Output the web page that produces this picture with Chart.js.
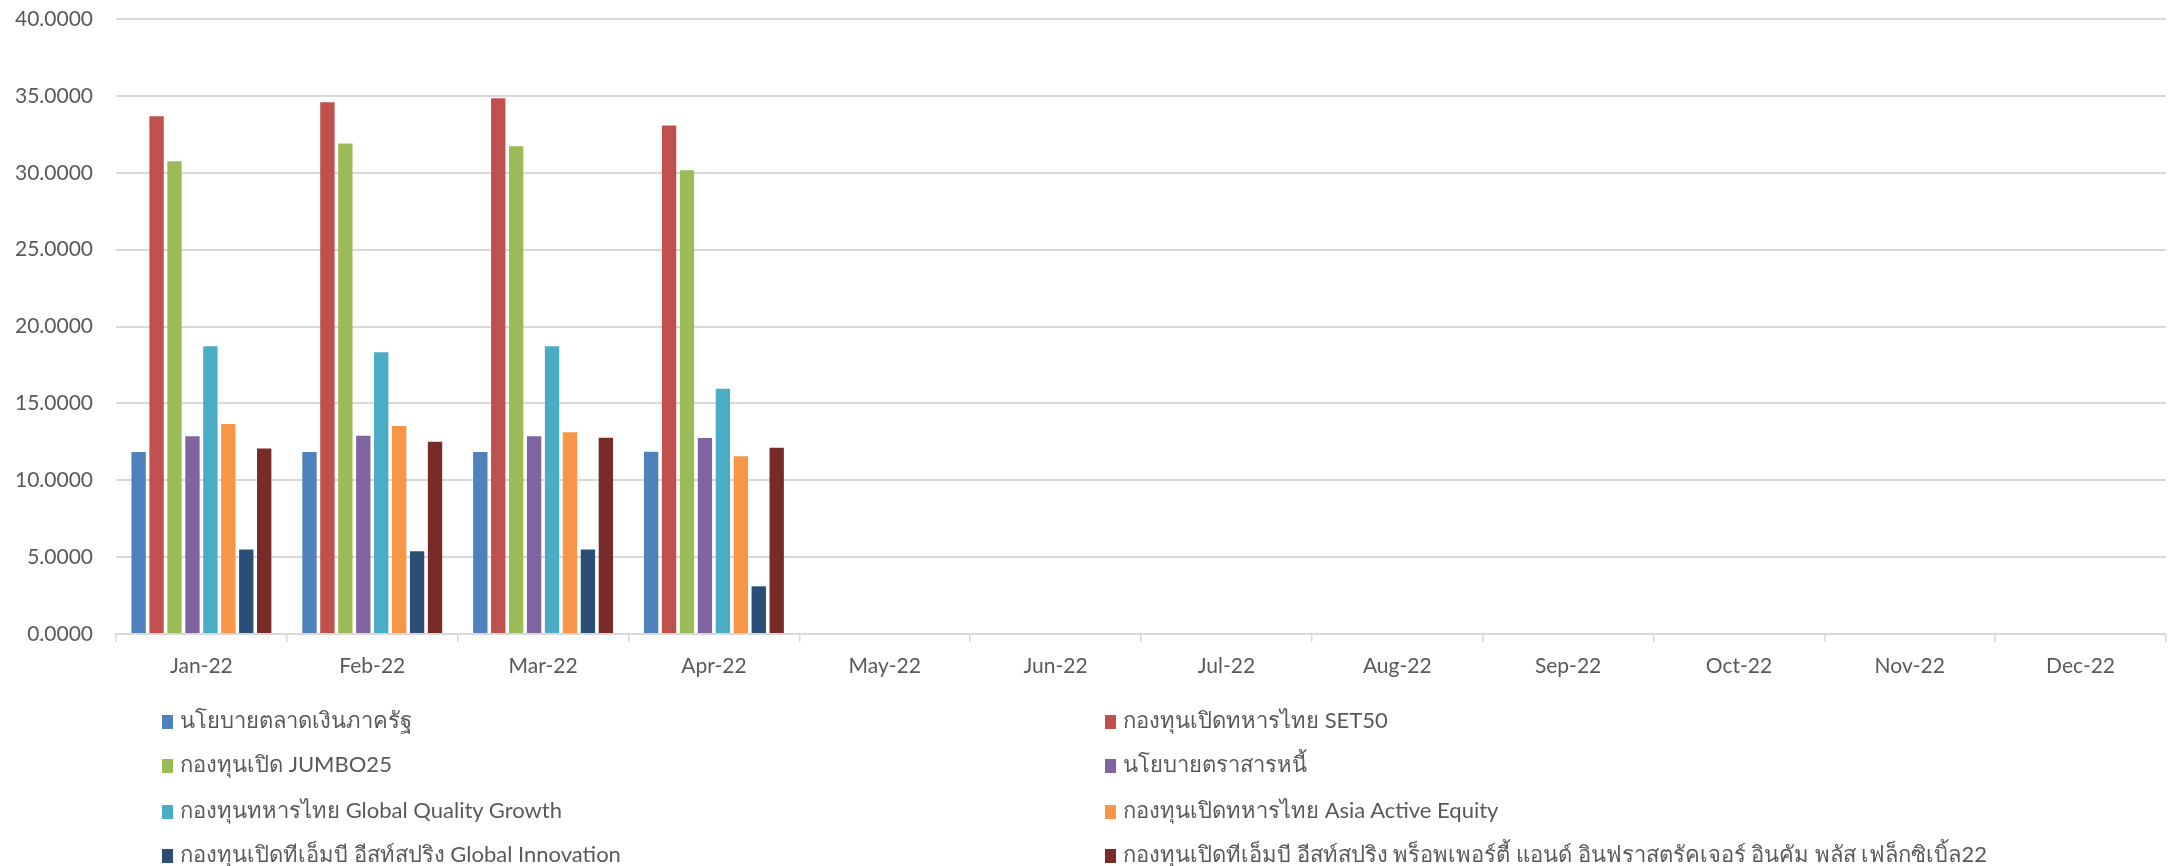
<!DOCTYPE html>
<html>
<head>
<meta charset="utf-8">
<script src="https://cdn.jsdelivr.net/npm/chart.js@4/dist/chart.umd.min.js"></script>
<style>
  html, body { margin: 0; padding: 0; background: #fff; }
  #wrap { position: relative; width: 2174px; height: 866px; }
  canvas { position: absolute; left: 0; top: 0; }
  .leg { position: absolute; font-family: Lato, "Noto Sans", sans-serif; font-size: 22px; color: #595959; white-space: nowrap; line-height: 28px; }
  .leg i { display: inline-block; width: 11px; height: 14px; margin-right: 7px; vertical-align: -1px; }
</style>
</head>
<body>
<div id="wrap"><canvas id="c" width="2174" height="866"></canvas></div>
<script>
const categories = ["Jan-22","Feb-22","Mar-22","Apr-22","May-22","Jun-22","Jul-22","Aug-22","Sep-22","Oct-22","Nov-22","Dec-22"];
const seriesNames = [
  "นโยบายตลาดเงินภาครัฐ",
  "กองทุนเปิดทหารไทย SET50",
  "กองทุนเปิด JUMBO25",
  "นโยบายตราสารหนี้",
  "กองทุนทหารไทย Global Quality Growth",
  "กองทุนเปิดทหารไทย Asia Active Equity",
  "กองทุนเปิดทีเอ็มบี อีสท์สปริง Global Innovation",
  "กองทุนเปิดทีเอ็มบี อีสท์สปริง พร็อพเพอร์ตี้ แอนด์ อินฟราสตรัคเจอร์ อินคัม พลัส เฟล็กซิเบิ้ล22"
];
const moneyMarket   = [11.84, 11.84, 11.84, 11.86, null, null, null, null, null, null, null, null];
const set50         = [33.67, 34.58, 34.84, 33.07, null, null, null, null, null, null, null, null];
const jumbo25       = [30.75, 31.90, 31.72, 30.16, null, null, null, null, null, null, null, null];
const fixedIncome   = [12.86, 12.90, 12.86, 12.75, null, null, null, null, null, null, null, null];
const globalQuality = [18.72, 18.33, 18.72, 15.95, null, null, null, null, null, null, null, null];
const asiaActive    = [13.66, 13.53, 13.12, 11.56, null, null, null, null, null, null, null, null];
const globalInnov   = [5.50, 5.39, 5.50, 3.10, null, null, null, null, null, null, null, null];
const propertyInfra = [12.06, 12.51, 12.77, 12.12, null, null, null, null, null, null, null, null];
const yTicks = [0, 5, 10, 15, 20, 25, 30, 35, 40];

const seriesData = [moneyMarket, set50, jumbo25, fixedIncome, globalQuality, asiaActive, globalInnov, propertyInfra];
const colors = ["#4F81BD","#C0504D","#9BBB59","#8064A2","#4BACC6","#F79646","#2C4D75","#772C2A"];

const FONT = "Lato, 'Noto Sans', sans-serif";
const datasets = seriesData.map((d, i) => ({
  label: seriesNames[i],
  data: d,
  backgroundColor: colors[i],
  borderWidth: 0,
  categoryPercentage: 0.84,
  barPercentage: 0.8
}));

new Chart(document.getElementById('c'), {
  type: 'bar',
  data: { labels: categories, datasets },
  options: {
    responsive: false,
    animation: false,
    layout: { padding: { left: 0, right: 8, top: 0, bottom: 0 } },
    plugins: { legend: { display: false }, tooltip: { enabled: false } },
    scales: {
      x: {
        offset: true,
        grid: { offset: true, drawOnChartArea: false, color: '#d9d9d9', lineWidth: 1.5, tickLength: 8 },
        border: { color: '#d9d9d9', width: 2 },
        ticks: { color: '#595959', font: { family: FONT, size: 21 }, padding: 12, maxRotation: 0 },
        afterFit: s => { s.height = 232; }
      },
      y: {
        min: 0, max: 40,
        afterBuildTicks: s => { s.ticks = yTicks.map(v => ({ value: v })); },
        grid: { color: '#d9d9d9', lineWidth: 2, drawTicks: false },
        border: { display: false },
        ticks: { color: '#595959', font: { family: FONT, size: 21, lineHeight: 1.5 }, padding: 23,
                 callback: v => Number(v).toFixed(4) },
        afterFit: s => { s.width = 116; s.paddingTop = 19; }
      }
    }
  }
});

// HTML legend in two columns
const wrap = document.getElementById('wrap');
const colX = [162, 1105];
const rowY = [720, 764, 810, 854];
seriesNames.forEach((name, i) => {
  const el = document.createElement('div');
  el.className = 'leg';
  el.style.left = colX[i % 2] + 'px';
  el.style.top = (rowY[Math.floor(i / 2)] - 14) + 'px';
  const sw = document.createElement('i');
  sw.style.background = colors[i];
  el.appendChild(sw);
  el.appendChild(document.createTextNode(name));
  wrap.appendChild(el);
});
</script>
</body>
</html>
